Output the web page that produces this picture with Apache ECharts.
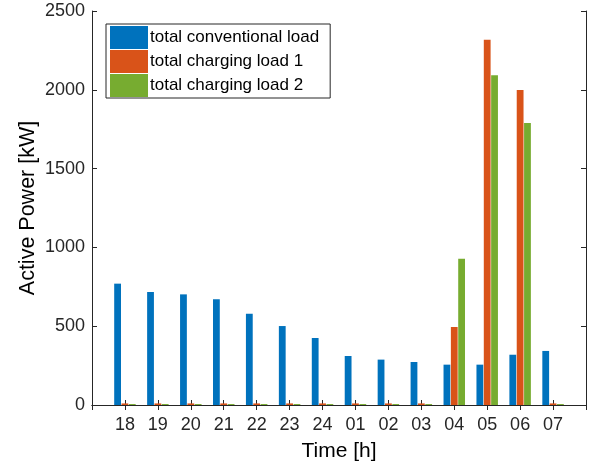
<!DOCTYPE html>
<html>
<head>
<meta charset="utf-8">
<script src="https://cdn.jsdelivr.net/npm/echarts@6/dist/echarts.min.js"></script>
<style>
  html, body { margin: 0; padding: 0; background: #fff; }
  #chart { width: 590px; height: 470px; }
</style>
</head>
<body>
<div id="chart"></div>
<script>
// Hour labels (blank slots pad the axis on both sides)
const hours = ['', '18', '19', '20', '21', '22', '23', '24', '01', '02', '03', '04', '05', '06', '07', ''];

// Active power per hour [kW]
const conventionalLoad = [null, 770, 717, 702, 671, 579, 501, 425, 311, 288, 273, 256, 256, 319, 343, null];
const chargingLoad1    = [null, 10, 10, 10, 10, 10, 10, 10, 10, 10, 10, 495, 2318, 1999, 10, null];
const chargingLoad2    = [null, 6, 6, 6, 6, 6, 6, 6, 6, 6, 6, 928, 2092, 1789, 6, null];

const seriesNames = ['total conventional load', 'total charging load 1', 'total charging load 2'];
const yTicks = { min: 0, max: 2500, interval: 500 };

const ink = '#262626';
const font = '"Liberation Sans", Arial, Helvetica, sans-serif';

const chart = echarts.init(document.getElementById('chart'), null, { renderer: 'canvas' });

function barSeries(name, data, color) {
  return {
    name: name,
    type: 'bar',
    data: data,
    barWidth: 6.8,
    barGap: '8%',
    itemStyle: { color: color },
    emphasis: { disabled: true }
  };
}

chart.setOption({
  animation: false,
  backgroundColor: '#fff',
  color: ['#0072BD', '#D95319', '#77AC30'],
  grid: { left: 92, right: 4, top: 11, bottom: 65, containLabel: false },
  legend: {
    data: seriesNames,
    orient: 'vertical',
    left: 106,
    top: 24,
    itemWidth: 38,
    itemHeight: 23,
    itemGap: 1,
    icon: 'rect',
    padding: [2, 11, 1, 4],
    borderColor: ink,
    borderWidth: 1,
    backgroundColor: '#fff',
    selectedMode: false,
    textStyle: { color: '#000', fontSize: 17, fontFamily: font, padding: [0, 0, 0, -3] }
  },
  xAxis: [
    {
      type: 'category',
      data: hours,
      boundaryGap: false,
      name: 'Time [h]',
      nameLocation: 'middle',
      nameGap: 36,
      nameMoveOverlap: false,
      nameTextStyle: { color: '#000', fontSize: 21, fontFamily: font },
      axisLine: { lineStyle: { color: ink, width: 1 } },
      axisTick: { inside: true, length: 5, lineStyle: { color: ink } },
      axisLabel: { color: ink, fontSize: 18, fontFamily: font, margin: 11, interval: 0 },
      splitLine: { show: false }
    },
    {
      type: 'category',
      data: hours,
      boundaryGap: false,
      position: 'top',
      axisLine: { lineStyle: { color: ink, width: 1 } },
      axisTick: { inside: true, length: 5, lineStyle: { color: ink } },
      axisLabel: { show: false },
      splitLine: { show: false }
    }
  ],
  yAxis: [
    {
      type: 'value',
      min: yTicks.min,
      max: yTicks.max,
      interval: yTicks.interval,
      name: 'Active Power [kW]',
      nameLocation: 'middle',
      nameGap: 53,
      nameMoveOverlap: false,
      nameTextStyle: { color: '#000', fontSize: 21.5, fontFamily: font },
      axisLine: { show: true, lineStyle: { color: ink, width: 1 } },
      axisTick: { show: true, inside: true, length: 5, lineStyle: { color: ink } },
      axisLabel: { color: ink, fontSize: 18, fontFamily: font, margin: 7, formatter: v => String(v) },
      splitLine: { show: false }
    },
    {
      type: 'value',
      min: yTicks.min,
      max: yTicks.max,
      interval: yTicks.interval,
      position: 'right',
      axisLine: { show: true, lineStyle: { color: ink, width: 1 } },
      axisTick: { show: true, inside: true, length: 5, lineStyle: { color: ink } },
      axisLabel: { show: false },
      splitLine: { show: false }
    }
  ],
  series: [
    barSeries(seriesNames[0], conventionalLoad, '#0072BD'),
    barSeries(seriesNames[1], chargingLoad1, '#D95319'),
    barSeries(seriesNames[2], chargingLoad2, '#77AC30')
  ]
});
</script>
</body>
</html>
